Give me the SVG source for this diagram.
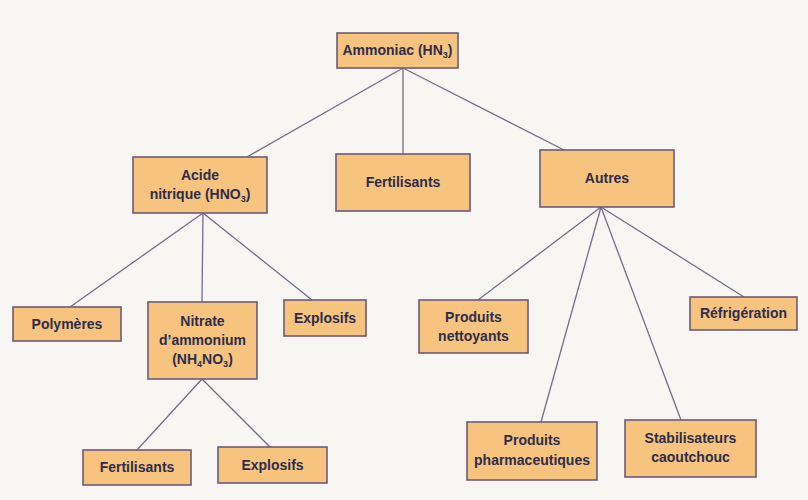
<svg xmlns="http://www.w3.org/2000/svg" width="808" height="500" viewBox="0 0 808 500">
<style>
.box{fill:#f6c47f;stroke:#6e5a78;stroke-width:1.6}
.t{font-family:"Liberation Sans Narrow","Liberation Sans",Arial,sans-serif;font-weight:bold;font-size:14px;fill:#2e2c4a;text-anchor:middle}
.s{font-size:9px}
.c line{stroke:#7a6a88;stroke-width:1.3}
</style>
<rect width="808" height="500" fill="#f7f6f3"/>
<g class="c" id="connectors">
<line x1="403" y1="68" x2="247" y2="157"/>
<line x1="403" y1="68" x2="403" y2="154"/>
<line x1="403" y1="68" x2="564" y2="150"/>
<line x1="203" y1="213" x2="70" y2="307"/>
<line x1="203" y1="213" x2="202" y2="302"/>
<line x1="203" y1="213" x2="312" y2="300"/>
<line x1="202" y1="379" x2="137" y2="450"/>
<line x1="202" y1="379" x2="270" y2="447"/>
<line x1="601" y1="207" x2="478" y2="300"/>
<line x1="601" y1="207" x2="541" y2="422"/>
<line x1="601" y1="207" x2="681" y2="420"/>
<line x1="601" y1="207" x2="744" y2="297"/>
</g>
<g id="ammoniac"><rect class="box" x="337" y="33" width="121" height="35"/><text class="t" x="397.5" y="55">Ammoniac (HN<tspan class="s" dy="3">3</tspan><tspan dy="-3">)</tspan></text></g>
<g id="acide"><rect class="box" x="133" y="157" width="134" height="56"/><text class="t" x="200" y="180">Acide</text><text class="t" x="200" y="199">nitrique (HNO<tspan class="s" dy="3">3</tspan><tspan dy="-3">)</tspan></text></g>
<g id="fertilisants1"><rect class="box" x="336" y="154" width="134" height="57"/><text class="t" x="403" y="187">Fertilisants</text></g>
<g id="autres"><rect class="box" x="540" y="150" width="134" height="57"/><text class="t" x="607" y="183">Autres</text></g>
<g id="polymeres"><rect class="box" x="13" y="307" width="108" height="34"/><text class="t" x="67" y="329">Polymères</text></g>
<g id="nitrate"><rect class="box" x="148" y="302" width="109" height="77"/><text class="t" x="202.5" y="326">Nitrate</text><text class="t" x="202.5" y="345">d’ammonium</text><text class="t" x="202.5" y="364">(NH<tspan class="s" dy="3">4</tspan><tspan dy="-3">NO</tspan><tspan class="s" dy="3">3</tspan><tspan dy="-3">)</tspan></text></g>
<g id="explosifs1"><rect class="box" x="284" y="300" width="82" height="36"/><text class="t" x="325" y="323">Explosifs</text></g>
<g id="nettoyants"><rect class="box" x="419" y="300" width="109" height="53"/><text class="t" x="473.5" y="322">Produits</text><text class="t" x="473.5" y="341">nettoyants</text></g>
<g id="refrigeration"><rect class="box" x="690" y="297" width="107" height="33"/><text class="t" x="743.5" y="318">Réfrigération</text></g>
<g id="pharma"><rect class="box" x="467" y="422" width="130" height="58"/><text class="t" x="532" y="445">Produits</text><text class="t" x="532" y="465">pharmaceutiques</text></g>
<g id="stabilisateurs"><rect class="box" x="625" y="420" width="131" height="57"/><text class="t" x="690.5" y="443">Stabilisateurs</text><text class="t" x="690.5" y="462">caoutchouc</text></g>
<g id="fertilisants2"><rect class="box" x="83" y="450" width="108" height="35"/><text class="t" x="137" y="472">Fertilisants</text></g>
<g id="explosifs2"><rect class="box" x="218" y="447" width="109" height="36"/><text class="t" x="272.5" y="470">Explosifs</text></g>
</svg>
